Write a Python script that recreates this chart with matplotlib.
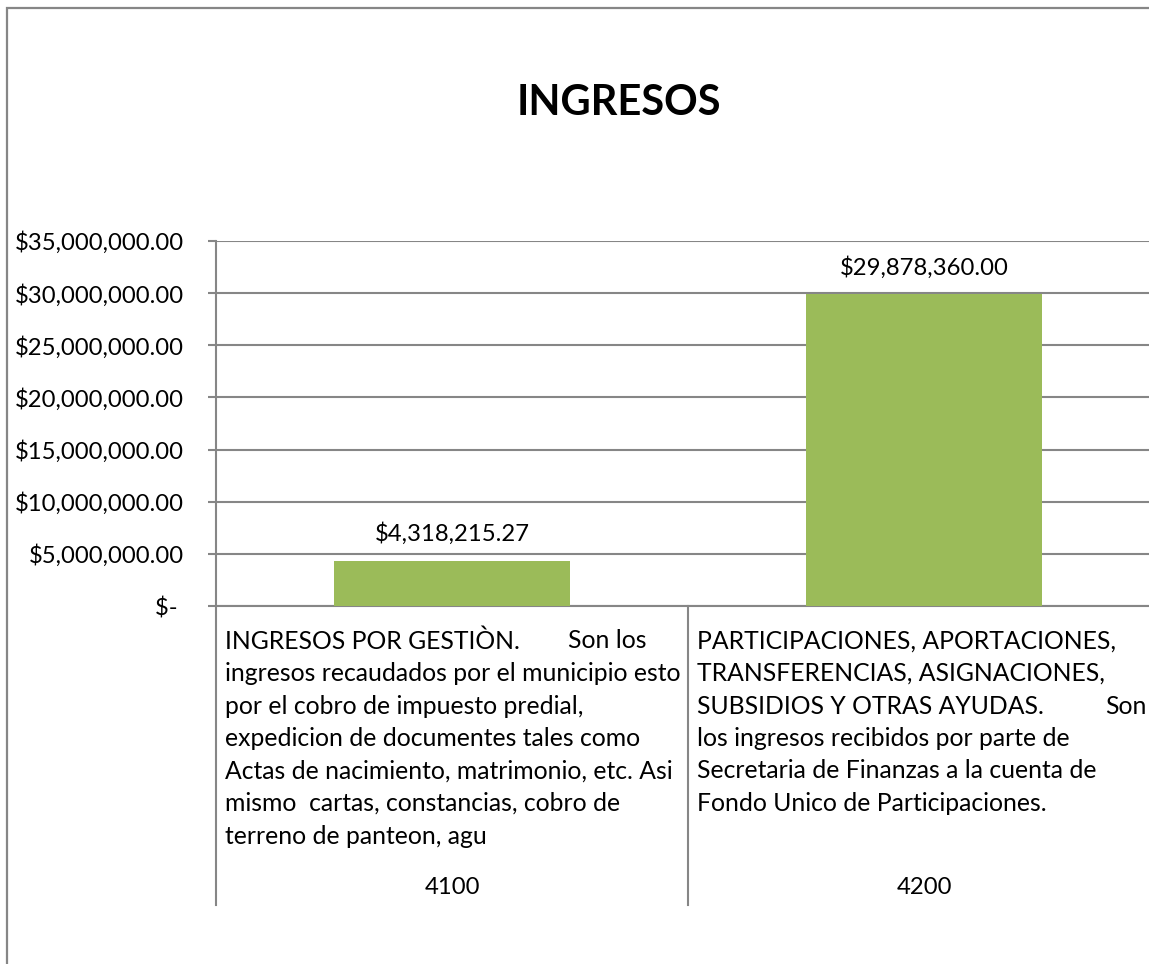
import matplotlib
matplotlib.use("Agg")
import matplotlib.pyplot as plt
from matplotlib.patches import Rectangle
from matplotlib.lines import Line2D
from matplotlib.transforms import blended_transform_factory
from matplotlib.ticker import FuncFormatter

# data
codes = ["4100", "4200"]
values = [4318215.27, 29878360.00]
desc_4100 = ["ingresos recaudados por el municipio esto",
             "por el cobro de impuesto predial,",
             "expedicion de documentes tales como",
             "Actas de nacimiento, matrimonio, etc. Asi",
             "mismo  cartas, constancias, cobro de",
             "terreno de panteon, agu"]
desc_4200 = ["TRANSFERENCIAS, ASIGNACIONES,",
             "SUBSIDIOS Y OTRAS AYUDAS.",
             "los ingresos recibidos por parte de",
             "Secretaria de Finanzas a la cuenta de",
             "Fondo Unico de Participaciones."]
heads = ["INGRESOS POR GESTIÒN.", "PARTICIPACIONES, APORTACIONES,"]
y_ticks = [0, 5e6, 10e6, 15e6, 20e6, 25e6, 30e6, 35e6]

plt.rcParams['font.family'] = ['Lato', 'DejaVu Sans']
grey = '#868686'
green = '#9BBB59'
W, H = 1149, 964
fs_num = 17.2
fs_txt = 17.8

fig = plt.figure(figsize=(W / 100, H / 100), dpi=100)
# plot area in pixels: x 216..1160, y 241..606
ax = fig.add_axes([216 / W, (H - 606) / H, 944 / W, 365 / H])

x = list(range(len(codes)))
ax.bar(x, values, width=0.5, color=green, zorder=3)
ax.set_xlim(-0.5, 1.5)
ax.set_ylim(0, 35e6)
ax.set_yticks(y_ticks)

def money(v, pos):
    if v == 0:
        return "$- "
    return "${:,.2f}".format(v)

ax.yaxis.set_major_formatter(FuncFormatter(money))
ax.tick_params(axis='y', length=6, width=1.5, color=grey, pad=17, labelsize=fs_num)
ax.set_xticks([])
ax.grid(axis='y', color=grey, linewidth=1.5, zorder=0)
for s in ['top', 'right']:
    ax.spines[s].set_visible(False)
for s in ['left', 'bottom']:
    ax.spines[s].set_color(grey)
    ax.spines[s].set_linewidth(1.5)

# value labels
for xi, v in zip(x, values):
    ax.annotate("${:,.2f}".format(v), (xi, v), xytext=(0, 16),
                textcoords='offset pixels', ha='center', va='bottom', fontsize=fs_num)

# category dividers running down through the label area
tr = blended_transform_factory(ax.transData, ax.transAxes)
for b in [-0.5, 0.5, 1.5]:
    ax.add_line(Line2D([b, b], [0, -299 / 365], transform=tr, color=grey,
                       linewidth=1.5, clip_on=False))

# multi-line category descriptions
lh = 32.5
line_sets = [[heads[0]] + desc_4100, [heads[1]] + desc_4200]
for xi, lines in zip(x, line_sets):
    for k, line in enumerate(lines):
        ax.annotate(line, (xi - 0.5, 0), xytext=(9, -35 - k * lh),
                    textcoords='offset pixels', ha='left', va='center', fontsize=fs_txt)
ax.annotate("Son los", (x[0] - 0.5, 0), xytext=(352, -35),
            textcoords='offset pixels', ha='left', va='center', fontsize=fs_txt)
ax.annotate("Son", (x[1] - 0.5, 0), xytext=(417, -35 - 2 * lh),
            textcoords='offset pixels', ha='left', va='center', fontsize=fs_txt)
for xi, c in zip(x, codes):
    ax.annotate(c, (xi, 0), xytext=(0, -282), textcoords='offset pixels',
                ha='center', va='center', fontsize=fs_num)

# chart title and outer chart border
fig.text(619 / W, 1 - 103 / H, "INGRESOS", ha='center', va='center',
         fontsize=30, fontweight='bold')
fig.patches.append(Rectangle((7 / W, -0.1), 1.2, 1 - 8 / H + 0.1,
                             transform=fig.transFigure, fill=False,
                             edgecolor=grey, linewidth=1.6))

fig.savefig("out.png", dpi=100)
